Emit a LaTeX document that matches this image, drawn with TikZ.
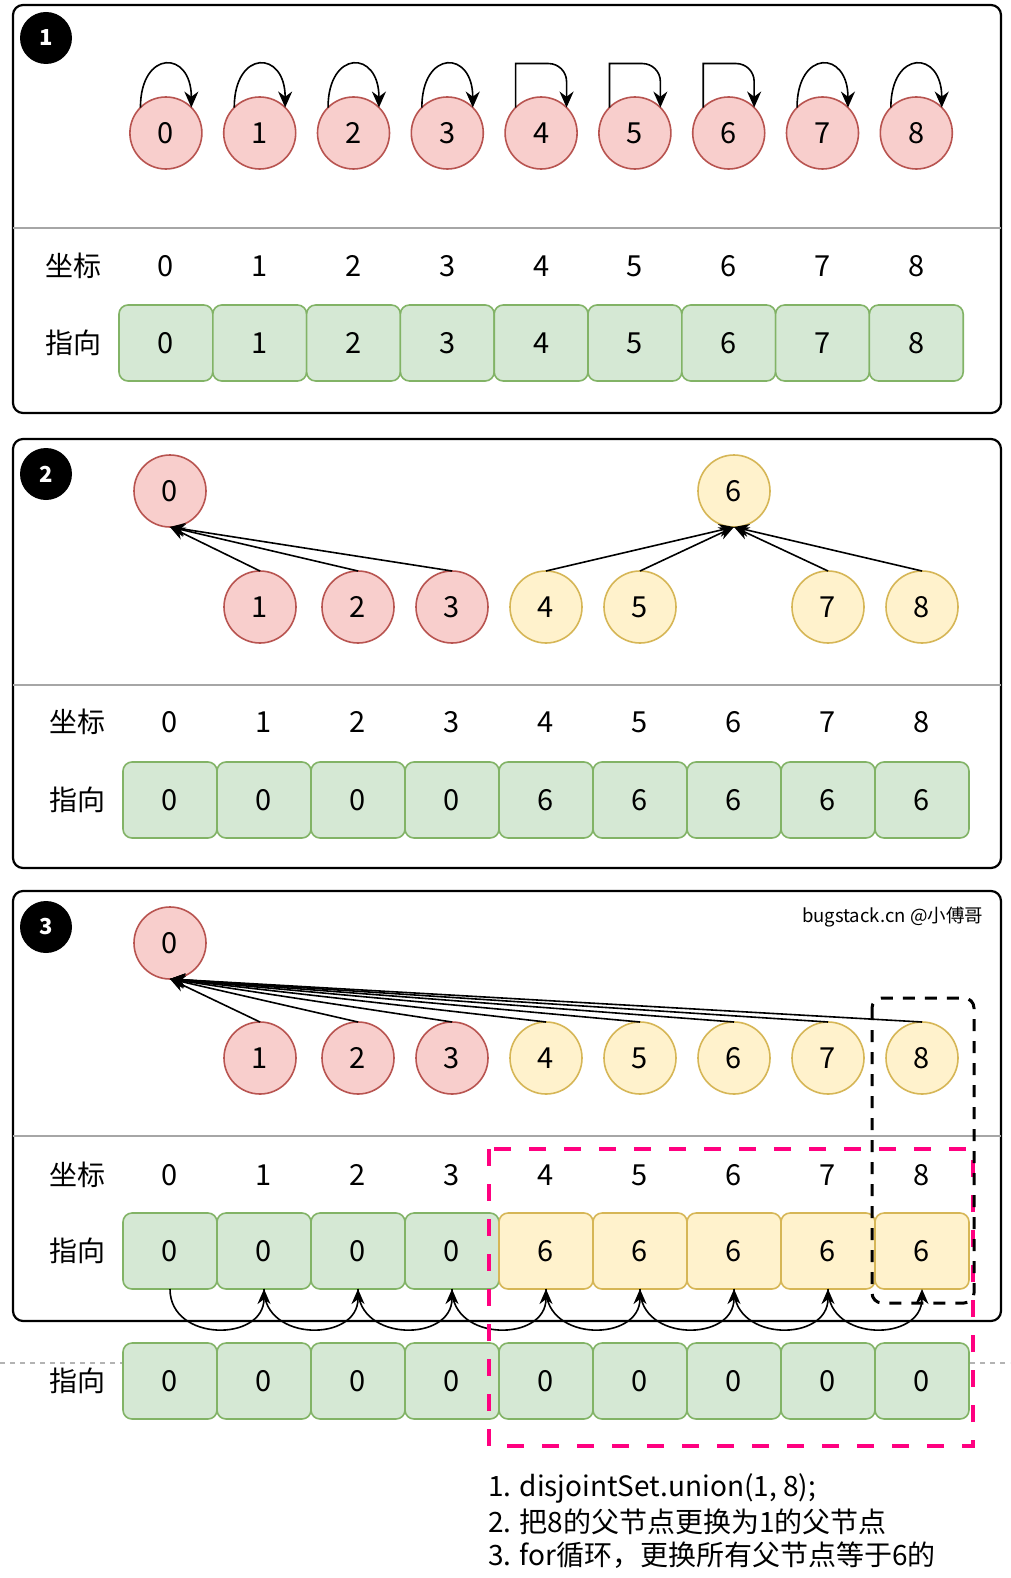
\documentclass[tikz,border=0pt]{standalone}
\usepackage{fontspec}
\setmainfont{Noto Sans CJK SC}
\usetikzlibrary{arrows.meta,calc}
\definecolor{rfill}{HTML}{F8CECC}
\definecolor{rdraw}{HTML}{B85450}
\definecolor{yfill}{HTML}{FFF2CC}
\definecolor{ydraw}{HTML}{D6B656}
\definecolor{gfill}{HTML}{D5E8D4}
\definecolor{gdraw}{HTML}{82B366}
\definecolor{pinkc}{HTML}{FF0080}
\definecolor{divc}{HTML}{A6A6A6}
\definecolor{dashc}{HTML}{B3B3B3}
\begin{document}
\begin{tikzpicture}[x=1pt,y=1pt,
  every node/.style={inner sep=0pt, outer sep=0pt},
  numfont/.style={font=\fontsize{29}{29}\selectfont},
  rnode/.style={circle, minimum size=72pt, fill=rfill, draw=rdraw, line width=1.6pt, numfont},
  ynode/.style={rnode, fill=yfill, draw=ydraw},
  gbox/.style={rectangle, rounded corners=9pt, minimum height=76pt, fill=gfill, draw=gdraw, line width=1.6pt, numfont},
  ybox/.style={gbox, fill=yfill, draw=ydraw},
  lbl/.style={font=\fontsize{28}{28}\selectfont},
  badge/.style={circle, fill=black, minimum size=52pt, text=white, font=\bfseries\fontsize{22}{22}\selectfont},
  frame/.style={line width=2.2pt, rounded corners=10pt},
  divline/.style={draw=divc, line width=1.8pt},
  arr/.style={line width=1.6pt, -{Stealth[length=15pt,width=13pt]}},
  selfloop/.style={line width=1.6pt, -{Stealth[length=16pt,width=14pt]}},
  note/.style={anchor=west, font=\fontsize{28}{28}\selectfont}
]
\useasboundingbox (0,0) rectangle (1010,-1578);
\fill[white] (0,0) rectangle (1010,-1578);

% ---------------- Panel 1 ----------------
\draw[frame] (13,-5) rectangle (1001,-413);
\draw[divline] (13,-228) -- (1001,-228);
\node[badge] (bd1) at (46,-38) {1};
\foreach \i [evaluate=\i as \x using 165.9+93.8*\i] in {0,...,8} {
  \node[rnode] (p1c\i) at (\x,-133) {\i};
  \node[lbl, numfont] (p1n\i) at (\x,-266) {\i};
  \node[gbox, minimum width=93.8pt] (p1b\i) at (\x,-343) {\i};
}
\node[lbl] (p1l1) at (73,-266) {坐标};
\node[lbl] (p1l2) at (73,-343) {指向};
\foreach \i in {0,1,2,3,7,8} {
  \draw[selfloop] (p1c\i.135) .. controls +(0,58) and +(0,58) .. (p1c\i.45);
}
\foreach \i in {4,5,6} {
  \draw[selfloop] (p1c\i.135) -- ++(0,44) -- ($(p1c\i.45)+(-18,44)$) arc[start angle=90, end angle=0, radius=18] -- (p1c\i.45);
}

% ---------------- Panel 2 ----------------
\draw[frame] (13,-439) rectangle (1001,-868);
\draw[divline] (13,-685) -- (1001,-685);
\node[badge] (bd2) at (46,-474) {2};
\node[rnode] (p2c0) at (170,-491) {0};
\node[ynode] (p2c6) at (734,-491) {6};
\node[rnode] (p2c1) at (260,-607) {1};
\node[rnode] (p2c2) at (358,-607) {2};
\node[rnode] (p2c3) at (452,-607) {3};
\node[ynode] (p2c4) at (546,-607) {4};
\node[ynode] (p2c5) at (640,-607) {5};
\node[ynode] (p2c7) at (828,-607) {7};
\node[ynode] (p2c8) at (922,-607) {8};
\foreach \i in {1,2,3} { \draw[arr] (p2c\i.north) -- (p2c0.south); }
\foreach \i in {4,5,7,8} { \draw[arr] (p2c\i.north) -- (p2c6.south); }
\node[lbl] (p2l1) at (77,-722) {坐标};
\node[lbl] (p2l2) at (77,-800) {指向};
\foreach \i/\v [evaluate=\i as \x using 170+94*\i] in {0/0,1/0,2/0,3/0,4/6,5/6,6/6,7/6,8/6} {
  \node[lbl, numfont] (p2n\i) at (\x,-722) {\i};
  \node[gbox, minimum width=94pt] (p2b\i) at (\x,-800) {\v};
}

% ---------------- Panel 3 ----------------
\draw[dashc, line width=1.4pt, dash pattern=on 5pt off 5pt] (0,-1363) -- (1010,-1363);
\draw[frame] (13,-891) rectangle (1001,-1321);
\draw[divline] (13,-1136) -- (1001,-1136);
\node[badge] (bd3) at (46,-927) {3};
\node[font=\fontsize{18.5}{18.5}\selectfont, anchor=east] (sig) at (983,-917) {bugstack.cn @小傅哥};
\node[rnode] (p3c0) at (170,-943) {0};
\node[rnode] (p3c1) at (260,-1058) {1};
\node[rnode] (p3c2) at (358,-1058) {2};
\node[rnode] (p3c3) at (452,-1058) {3};
\node[ynode] (p3c4) at (546,-1058) {4};
\node[ynode] (p3c5) at (640,-1058) {5};
\node[ynode] (p3c6) at (734,-1058) {6};
\node[ynode] (p3c7) at (828,-1058) {7};
\node[ynode] (p3c8) at (922,-1058) {8};
\foreach \i in {1,...,8} { \draw[arr] (p3c\i.north) -- (p3c0.south); }
\node[lbl] (p3l1) at (77,-1175) {坐标};
\node[lbl] (p3l2) at (77,-1251) {指向};
\node[lbl] (p3l3) at (77,-1381) {指向};
\foreach \i [evaluate=\i as \x using 170+94*\i] in {0,...,3} {
  \node[lbl, numfont] (p3n\i) at (\x,-1175) {\i};
  \node[gbox, minimum width=94pt] (p3b\i) at (\x,-1251) {0};
}
\foreach \i [evaluate=\i as \x using 170+94*\i] in {4,...,8} {
  \node[lbl, numfont] (p3n\i) at (\x,-1175) {\i};
  \node[ybox, minimum width=94pt] (p3b\i) at (\x,-1251) {6};
}
\foreach \i [evaluate=\i as \x using 170+94*\i] in {0,...,8} {
  \node[gbox, minimum width=94pt] (p4b\i) at (\x,-1381) {0};
}
\foreach \i [evaluate=\i as \j using int(\i+1)] in {0,...,7} {
  \draw[arr] (p3b\i.south) to[out=-90, in=-90, looseness=1.45] (p3b\j.south);
}
\draw[pinkc, line width=4.5pt, dash pattern=on 17pt off 18pt] (489,-1149) rectangle (973,-1446);
\draw[line width=3pt, dash pattern=on 12pt off 10pt, rounded corners=10pt] (872,-998) rectangle (974,-1303);

\node[note] (t1) at (488,-1488) {1. disjointSet.union(1, 8);};
\node[note] (t2) at (488,-1522) {2. 把8的父节点更换为1的父节点};
\node[note] (t3) at (488,-1555) {3. for循环，更换所有父节点等于6的};
\end{tikzpicture}
\end{document}
